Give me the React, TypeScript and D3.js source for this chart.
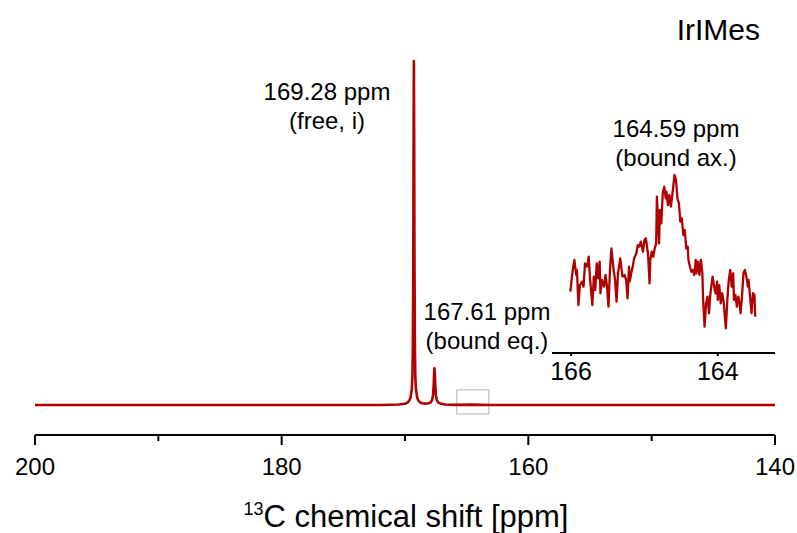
import React from "react";
import * as d3 from "d3";

// main 13C spectrum (ppm, relative intensity; 100 = free peak)
const mainPpm = [
  200, 172, 170.5, 170, 169.8, 169.65, 169.55, 169.45, 169.4, 169.36, 169.33, 169.3, 169.28,
  169.26, 169.23, 169.2, 169.16, 169.11, 169.0, 168.9, 168.7, 168.4, 168.1, 167.9, 167.8,
  167.72, 167.67, 167.64, 167.61, 167.58, 167.55, 167.5, 167.42, 167.3, 167.1, 166.7, 166.0,
  164.6, 163, 140,
];
const mainInt = [
  0, 0, 0.15, 0.35, 0.7, 1.3, 2.2, 4.5, 8, 18, 40, 82, 100,
  82, 40, 18, 8, 4.5, 2.0, 1.2, 0.6, 0.4, 0.5, 0.8, 1.5,
  3, 6, 9, 10.7, 9, 6, 3, 1.5, 0.7, 0.35, 0.15, 0.05,
  0.1, 0, 0,
];

// inset, zoom on the bound axial signal
const insetPpm = [
  166.01, 165.98, 165.955, 165.93, 165.92, 165.9, 165.88, 165.85, 165.83, 165.81, 165.78, 165.76,
  165.74, 165.71, 165.69, 165.67, 165.65, 165.63, 165.61, 165.6, 165.58, 165.55, 165.53, 165.51,
  165.49, 165.47, 165.45, 165.42, 165.4, 165.38, 165.36, 165.33, 165.31, 165.3, 165.27, 165.25,
  165.23, 165.21, 165.2, 165.18, 165.16, 165.14, 165.11, 165.09, 165.07, 165.05, 165.02, 165.0,
  164.98, 164.95, 164.93, 164.92, 164.9, 164.88, 164.86, 164.84, 164.83, 164.8, 164.79, 164.77,
  164.75, 164.73, 164.71, 164.7, 164.68, 164.66, 164.64, 164.62, 164.6, 164.59, 164.57, 164.55,
  164.53, 164.51, 164.49, 164.47, 164.45, 164.43, 164.41, 164.4, 164.38, 164.36, 164.34, 164.32,
  164.3, 164.29, 164.27, 164.25, 164.23, 164.21, 164.2, 164.18, 164.16, 164.14, 164.12, 164.1,
  164.09, 164.07, 164.05, 164.03, 164.01, 164.0, 163.98, 163.96, 163.94, 163.92, 163.9, 163.89,
  163.87, 163.85, 163.83, 163.81, 163.79, 163.78, 163.76, 163.74, 163.72, 163.7, 163.69, 163.67,
  163.65, 163.63, 163.61, 163.59, 163.58, 163.56, 163.54, 163.52, 163.5, 163.49,
];
const insetInt = [
  24.7, 37.6, 45.2, 35.5, 38.7, 16.1, 29.0, 31.2, 28.0, 43.0, 40.9, 47.3,
  32.3, 16.1, 34.4, 25.8, 43.0, 33.3, 44.1, 23.7, 32.3, 28.0, 35.5, 28.0,
  15.1, 38.7, 52.7, 38.7, 32.3, 18.3, 36.6, 46.2, 38.7, 34.4, 35.5, 32.3,
  20.4, 40.9, 31.2, 36.6, 40.9, 46.2, 49.5, 54.8, 53.8, 57.0, 50.5, 58.1,
  59.1, 48.4, 30.1, 45.2, 50.5, 47.3, 52.7, 55.9, 86.0, 55.9, 77.4, 68.8,
  88.2, 92.5, 84.9, 89.2, 80.6, 87.1, 79.6, 87.1, 95.7, 100, 96.8, 84.9,
  81.7, 69.9, 72.0, 61.3, 64.5, 52.7, 53.8, 45.2, 40.9, 37.6, 38.7, 35.5,
  45.2, 36.6, 44.1, 35.5, 45.2, 36.6, 19.4, 2.2, 17.2, 21.5, 10.8, 23.7,
  28.0, 34.4, 28.0, 23.7, 31.2, 19.4, 29.0, 17.2, 23.7, 18.3, 6.5, 1.1,
  19.4, 32.3, 38.7, 28.0, 36.6, 19.4, 22.6, 15.1, 21.5, 16.1, 10.8, 21.5,
  36.6, 38.7, 34.4, 28.0, 32.3, 21.5, 10.8, 23.7, 22.6, 8.6,
];

const mainTicks = [200, 180, 160, 140];
const minorTicks = [190, 170, 150];
const insetTicks = [166, 164];
const zoomBoxPpm = [165.8, 163.2];
const zoomBoxInt = [-2.6, 4.4];

const annotations = [
  { ppm: 169.28, lines: ["169.28 ppm", "(free, i)"] },
  { ppm: 167.61, lines: ["167.61 ppm", "(bound eq.)"] },
  { ppm: 164.59, lines: ["164.59 ppm", "(bound ax.)"] },
];

const RED = "#b00000";
const FONT = "Arial, 'Liberation Sans', sans-serif";

export default function App() {
  const W = 797;
  const H = 533;

  const x = d3.scaleLinear().domain([200, 140]).range([35, 775]);
  const y = d3.scaleLinear().domain([0, 100]).range([405, 61]);
  const axisY = 435;

  const xi = d3.scaleLinear().domain([166.26, 163.22]).range([552, 775]);
  const yi = d3.scaleLinear().domain([0, 100]).range([330, 175]);
  const insetAxisY = 353;

  const mainLine = d3
    .line<number>()
    .x((_, i) => x(mainPpm[i]))
    .y((d) => y(d));
  const insetLine = d3
    .line<number>()
    .x((_, i) => xi(insetPpm[i]))
    .y((d) => yi(d));

  // label positions (text anchored middle)
  const labelPos = [
    { cx: 327, y0: 100 },
    { cx: 487, y0: 320 },
    { cx: 676, y0: 137 },
  ];

  return (
    <svg
      width={W}
      height={H}
      style={{ position: "absolute", left: 0, top: 0, background: "#fff" }}
      fontFamily={FONT}
    >
      <rect width={W} height={H} fill="#fff" />

      {/* zoom box */}
      <rect
        x={x(zoomBoxPpm[0])}
        y={y(zoomBoxInt[1])}
        width={x(zoomBoxPpm[1]) - x(zoomBoxPpm[0])}
        height={y(zoomBoxInt[0]) - y(zoomBoxInt[1])}
        fill="none"
        stroke="#b0b0b0"
        strokeWidth={1}
      />

      <path d={mainLine(mainInt) ?? ""} fill="none" stroke={RED} strokeWidth={2.6} strokeLinejoin="round" />

      {/* main x axis */}
      <line x1={x(200)} x2={x(140)} y1={axisY} y2={axisY} stroke="#000" strokeWidth={2} />
      {mainTicks.map((t) => (
        <g key={t}>
          <line x1={x(t)} x2={x(t)} y1={axisY} y2={axisY + 10} stroke="#000" strokeWidth={2} />
          <text x={x(t)} y={475} textAnchor="middle" fontSize={24}>
            {t}
          </text>
        </g>
      ))}
      {minorTicks.map((t) => (
        <line key={t} x1={x(t)} x2={x(t)} y1={axisY} y2={axisY + 6} stroke="#000" strokeWidth={2} />
      ))}
      <text x={406} y={527} textAnchor="middle" fontSize={31}>
        <tspan fontSize={18} dy={-12}>13</tspan>
        <tspan dy={12}>C chemical shift [ppm]</tspan>
      </text>

      {/* inset */}
      <path d={insetLine(insetInt) ?? ""} fill="none" stroke={RED} strokeWidth={2.3} strokeLinejoin="round" />
      <line x1={552} x2={775} y1={insetAxisY} y2={insetAxisY} stroke="#000" strokeWidth={2} />
      {insetTicks.map((t) => (
        <g key={t}>
          <line x1={xi(t)} x2={xi(t)} y1={insetAxisY} y2={insetAxisY + 3} stroke="#000" strokeWidth={2} />
          <text x={xi(t)} y={380} textAnchor="middle" fontSize={25}>
            {t}
          </text>
        </g>
      ))}

      {/* annotations */}
      {annotations.map((a, i) => (
        <text key={a.ppm} textAnchor="middle" fontSize={24}>
          {a.lines.map((l, j) => (
            <tspan key={j} x={labelPos[i].cx} y={labelPos[i].y0 + j * 29}>
              {l}
            </tspan>
          ))}
        </text>
      ))}

      <text x={760} y={40} textAnchor="end" fontSize={30}>
        IrIMes
      </text>
    </svg>
  );
}
